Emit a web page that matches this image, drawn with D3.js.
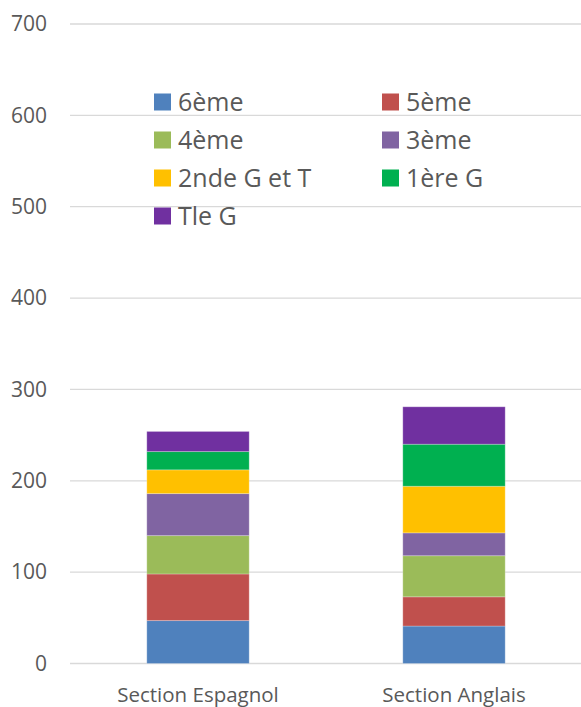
<!DOCTYPE html>
<html>
<head>
<meta charset="utf-8">
<script src="https://cdn.jsdelivr.net/npm/d3@7"></script>
<style>
  body { margin: 0; background: #fff; }
  text { font-family: "Open Sans", sans-serif; fill: #595959; }
</style>
</head>
<body>
<div id="main"></div>
<script>
var width = 581;
var height = 707;
var chartPadding = {t: 24, r: -1, b: 43.5, l: 70};

var sections = ['Section Espagnol', 'Section Anglais'];
var levels = ['6ème', '5ème', '4ème', '3ème', '2nde G et T', '1ère G', 'Tle G'];
var colors = ['#4F81BD', '#C0504D', '#9BBB59', '#8064A2', '#FFC000', '#00B050', '#7030A0'];
// one value per section, in the order of levels
var espagnol = [47, 51, 42, 46, 26, 20, 22];
var anglais = [41, 32, 45, 25, 51, 46, 41];
var yTicks = [0, 100, 200, 300, 400, 500, 600, 700];

var rows = sections.map(function(s, i) {
    var vals = i == 0 ? espagnol : anglais;
    var row = {section: s};
    levels.forEach(function(l, j) { row[l] = vals[j]; });
    return row;
});

var svg = d3.select('#main').append('svg')
    .attr('width', width)
    .attr('height', height);

var xScale = d3.scaleBand()
    .domain(sections)
    .range([chartPadding.l, width - chartPadding.r])
    .paddingInner(0.6)
    .paddingOuter(0.3);

var yScale = d3.scaleLinear()
    .domain([0, 700])
    .range([height - chartPadding.b, chartPadding.t]);

// gridlines
svg.append('g').selectAll('line')
    .data(yTicks)
    .enter()
    .append('line')
    .attr('x1', chartPadding.l)
    .attr('x2', width)
    .attr('y1', function(d) { return yScale(d); })
    .attr('y2', function(d) { return yScale(d); })
    .style('stroke', '#d9d9d9')
    .style('stroke-width', 1.3);

var yAxis = d3.axisLeft(yScale).tickValues(yTicks).tickSize(0).tickPadding(0);
var yG = svg.append('g')
    .attr('transform', 'translate(47, 0)')
    .call(yAxis);
yG.select('.domain').remove();
yG.selectAll('text')
    .style('font-size', '21px')
    .style('fill', '#595959')
    .style('font-family', '"Open Sans", sans-serif');

var stack = d3.stack().keys(levels);
var series = stack(rows);

svg.append('g').selectAll('g')
    .data(series)
    .enter()
    .append('g')
    .style('fill', function(d, i) { return colors[i]; })
    .selectAll('rect')
    .data(function(d) { return d; })
    .enter()
    .append('rect')
    .attr('x', function(d) { return xScale(d.data.section); })
    .attr('width', xScale.bandwidth())
    .attr('y', function(d) { return yScale(d[1]); })
    .attr('height', function(d) { return yScale(d[0]) - yScale(d[1]); })
    .style('stroke', 'rgba(255,255,255,0.25)')
    .style('stroke-width', 1);

var xAxis = d3.axisBottom(xScale).tickSize(0).tickPadding(0);
var xG = svg.append('g')
    .attr('transform', 'translate(0, ' + (height - chartPadding.b + 18) + ')')
    .call(xAxis);
xG.select('.domain').remove();
xG.selectAll('text')
    .attr('dy', '1em')
    .style('font-size', '20.5px')
    .style('fill', '#595959')
    .style('font-family', '"Open Sans", sans-serif');

// legend, two columns
var legend = svg.append('g').selectAll('g')
    .data(levels)
    .enter()
    .append('g')
    .attr('transform', function(d, i) {
        var col = i % 2;
        var row = Math.floor(i / 2);
        return 'translate(' + (col == 0 ? 154 : 382) + ', ' + (102 + row * 38) + ')';
    });

legend.append('rect')
    .attr('x', 0)
    .attr('y', -8.5)
    .attr('width', 17)
    .attr('height', 17)
    .style('fill', function(d, i) { return colors[i]; });

legend.append('text')
    .attr('x', 24)
    .attr('y', 0)
    .attr('dy', '0.36em')
    .style('font-size', '25px')
    .text(function(d) { return d; });
</script>
</body>
</html>
